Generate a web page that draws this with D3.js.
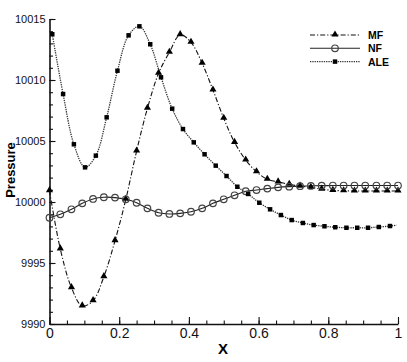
<!DOCTYPE html>
<html>
<head>
<meta charset="utf-8">
<script src="https://cdn.jsdelivr.net/npm/d3@7"></script>
<style>
  body { margin: 0; background: #fff; }
  svg { display: block; font-family: "Liberation Sans", Arial, sans-serif; }
</style>
</head>
<body>
<svg id="chart" width="407" height="362"></svg>
<script>
// marker positions for MF and NF (every 1/32 in x)
var xGrid = [0, 0.031, 0.063, 0.094, 0.125, 0.156, 0.188, 0.219, 0.25, 0.281, 0.313, 0.344,
  0.375, 0.406, 0.438, 0.469, 0.5, 0.531, 0.563, 0.594, 0.625, 0.656, 0.688, 0.719,
  0.75, 0.781, 0.813, 0.844, 0.875, 0.906, 0.938, 0.969, 1];

var mfValues = [10000.93, 9996.15, 9992.98, 9991.48, 9991.91, 9993.88, 9996.83, 10000.22,
  10004.18, 10007.68, 10010.55, 10012.27, 10013.71, 10013.09, 10011.37, 10009.18,
  10006.86, 10004.89, 10003.44, 10002.48, 10001.86, 10001.65, 10001.45, 10001.3,
  10001.2, 10001.05, 10000.95, 10000.92, 10000.9, 10000.9, 10000.9, 10000.9, 10000.9];

var nfValues = [9998.71, 9998.99, 9999.4, 9999.89, 10000.25, 10000.39, 10000.36, 10000.22,
  9999.94, 9999.48, 9999.12, 9999.02, 9999.07, 9999.2, 9999.48, 9999.89,
  10000.22, 10000.55, 10000.88, 10000.98, 10001.1, 10001.2, 10001.26, 10001.3,
  10001.32, 10001.34, 10001.35, 10001.35, 10001.35, 10001.35, 10001.35, 10001.35, 10001.35];

// ALE markers sit slightly offset; last point is line only
var aleX = [0.008, 0.039, 0.070, 0.102, 0.133, 0.164, 0.195, 0.227, 0.258, 0.289, 0.320,
  0.352, 0.383, 0.414, 0.445, 0.477, 0.508, 0.539, 0.570, 0.602, 0.633, 0.664, 0.695,
  0.727, 0.758, 0.789, 0.820, 0.852, 0.883, 0.914, 0.945, 0.977, 0.996];
var aleValues = [10013.75, 10008.85, 10004.73, 10002.84, 10003.8, 10006.94, 10010.76,
  10013.66, 10014.4, 10012.93, 10010.22, 10007.65, 10005.98, 10004.89, 10003.91,
  10002.98, 10002.13, 10001.25, 10000.66, 9999.94, 9999.4, 9998.93, 9998.52, 9998.28,
  9998.11, 9998.01, 9997.93, 9997.89, 9997.89, 9997.89, 9997.95, 9998.03, 9998.1];

var xTicks = [0, 0.2, 0.4, 0.6, 0.8, 1];
var yTicks = [9990, 9995, 10000, 10005, 10010, 10015];
var seriesNames = ["MF", "NF", "ALE"];

var svg = d3.select("#chart");

var x = d3.scaleLinear().domain([0, 1]).range([49.5, 398]);
var y = d3.scaleLinear().domain([9990, 10015]).range([324, 19]);

// minor ticks first
svg.append("g")
    .attr("transform", "translate(0,324)")
    .call(d3.axisBottom(x).tickValues(d3.range(0, 1.001, 0.05)).tickSize(-3.5).tickSizeOuter(0).tickFormat(""))
    .call(function(g) { g.select(".domain").remove(); });

svg.append("g")
    .attr("transform", "translate(49.5,0)")
    .call(d3.axisLeft(y).tickValues(d3.range(9990, 10015.5, 1)).tickSize(-3.5).tickSizeOuter(0).tickFormat(""))
    .call(function(g) { g.select(".domain").remove(); });

var xAxis = svg.append("g")
    .attr("transform", "translate(0,324)")
    .call(d3.axisBottom(x).tickValues(xTicks).tickSize(-7).tickSizeOuter(0).tickPadding(4).tickFormat(d3.format("")));
xAxis.selectAll("text").attr("font-size", 14).attr("fill", "#111");

var yAxis = svg.append("g")
    .attr("transform", "translate(49.5,0)")
    .call(d3.axisLeft(y).tickValues(yTicks).tickSize(-6).tickSizeOuter(0).tickPadding(4).tickFormat(d3.format("d")));
yAxis.selectAll("text").attr("font-size", 11).attr("fill", "#111");

svg.selectAll(".domain").attr("stroke", "#111").attr("stroke-width", 1.6);
svg.selectAll(".tick line").attr("stroke", "#111").attr("stroke-width", 1.1);

// axis titles
svg.append("text")
    .attr("x", 223).attr("y", 354)
    .attr("text-anchor", "middle")
    .attr("font-size", 15).attr("font-weight", "bold")
    .text("X");

svg.append("text")
    .attr("transform", "translate(15,170) rotate(-90)")
    .attr("text-anchor", "middle")
    .attr("font-size", 13).attr("font-weight", "bold")
    .text("Pressure");

var line = d3.line()
    .x(function(d) { return x(d[0]); })
    .y(function(d) { return y(d[1]); })
    .curve(d3.curveCatmullRom.alpha(0.5));

var mfData = d3.zip(xGrid, mfValues);
var nfData = d3.zip(xGrid, nfValues);
var aleData = d3.zip(aleX, aleValues);

var styles = {
  MF: { dash: "5,2,1.2,2", color: "#111", width: 1.1 },
  NF: { dash: null, color: "#222", width: 1.1 },
  ALE: { dash: "1.3,1", color: "#333", width: 1.3 }
};

var tri = d3.symbol().type(d3.symbolTriangle).size(22);
var sq = d3.symbol().type(d3.symbolSquare).size(20);

function drawMarker(g, name, px, py) {
  if (name === "MF") {
    g.append("path").attr("d", tri).attr("transform", "translate(" + px + "," + (py - 0.5) + ")").attr("fill", "#000");
  } else if (name === "NF") {
    g.append("circle").attr("cx", px).attr("cy", py).attr("r", 3.3)
      .attr("fill", "none").attr("stroke", "#444").attr("stroke-width", 1.2);
  } else {
    g.append("path").attr("d", sq).attr("transform", "translate(" + px + "," + py + ")").attr("fill", "#000");
  }
}

var seriesData = { MF: mfData, NF: nfData, ALE: aleData };

seriesNames.forEach(function(name) {
  var s = styles[name];
  svg.append("path")
      .datum(seriesData[name])
      .attr("fill", "none")
      .attr("stroke", s.color)
      .attr("stroke-width", s.width)
      .attr("stroke-dasharray", s.dash)
      .attr("d", line);
});

seriesNames.forEach(function(name) {
  var g = svg.append("g");
  var pts = seriesData[name];
  if (name === "ALE") pts = pts.slice(0, pts.length - 1);
  pts.forEach(function(d) { drawMarker(g, name, x(d[0]), y(d[1])); });
});

// legend
var legend = svg.append("g");
seriesNames.forEach(function(name, i) {
  var s = styles[name];
  var ly = 35 + i * 13.3;
  legend.append("line")
      .attr("x1", 310).attr("x2", 360).attr("y1", ly).attr("y2", ly)
      .attr("stroke", s.color).attr("stroke-width", s.width)
      .attr("stroke-dasharray", s.dash);
  drawMarker(legend, name, 335, ly);
  legend.append("text")
      .attr("x", 368).attr("y", ly + 4)
      .attr("font-size", 10.5).attr("font-weight", "bold")
      .text(name);
});
</script>
</body>
</html>
